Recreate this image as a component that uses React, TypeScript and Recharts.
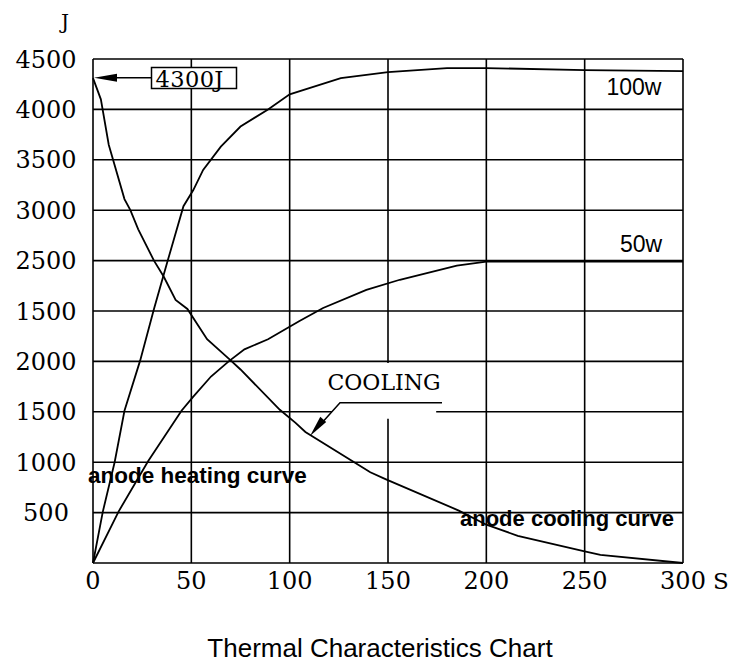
import React from "react";
import { LineChart, Line, XAxis, YAxis, CartesianGrid, ReferenceArea } from "recharts";

// x: seconds (S); y: chart grid units (one gridline = 500), labelled as printed on the original
const xTicks = [0, 50, 100, 150, 200, 250, 300];
const xTickLabels = ["0", "50", "100", "150", "200", "250", "300"];
const yTicks = [0, 500, 1000, 1500, 2000, 2500, 3000, 3500, 4000, 4500, 5000];
const yTickLabels = ["", "500", "1000", "1500", "2000", "1500", "2500", "3000", "3500", "4000", "4500"];

const heat100S = [0, 5, 11, 16, 24, 31, 38, 46, 51, 56, 65, 75, 89, 100, 126, 150, 180, 200, 250, 300];
const heat100J = [0, 510, 1000, 1510, 2010, 2520, 3000, 3540, 3700, 3900, 4130, 4330, 4500, 4650, 4810, 4870, 4910, 4910, 4890, 4880];

const heat50S = [0, 13, 28, 45, 51, 60, 69, 77, 89, 105, 117, 139, 156, 185, 200, 300];
const heat50J = [0, 510, 1010, 1510, 1650, 1850, 2000, 2120, 2220, 2400, 2530, 2710, 2810, 2950, 2990, 2990];

const coolS = [0, 4, 8, 16, 19, 23, 31, 36, 42, 48, 58, 70, 75, 95, 103, 108, 132, 141, 149, 186, 200, 216, 250, 258, 300];
const coolJ = [4810, 4600, 4150, 3610, 3500, 3310, 3000, 2840, 2610, 2520, 2220, 2010, 1920, 1520, 1390, 1300, 1010, 900, 830, 520, 380, 270, 115, 80, 0];

const toRows = (s: number[], j: number[]) => s.map((v, i) => ({ s: v, j: j[i] }));
const heat100 = toRows(heat100S, heat100J);
const heat50 = toRows(heat50S, heat50J);
const cooling = toRows(coolS, coolJ);

const SERIF = "'DejaVu Serif', serif";
const SANS = "'Liberation Sans', Arial, sans-serif";

const XTick = (props: any) => {
  const { x, y, payload } = props;
  const i = xTicks.indexOf(payload.value);
  return (
    <text x={x} y={y + 18} textAnchor="middle" fontFamily={SERIF} fontSize={24} fill="#000">
      {xTickLabels[i]}
    </text>
  );
};

const YTick = (props: any) => {
  const { y, payload } = props;
  const i = yTicks.indexOf(payload.value);
  return (
    <text x={46} y={y + 8.5} textAnchor="middle" fontFamily={SERIF} fontSize={24} fill="#000">
      {yTickLabels[i]}
    </text>
  );
};

export default function App() {
  return (
    <div style={{ position: "absolute", left: 0, top: 0, width: 737, height: 669, background: "#fff" }}>
      <LineChart
        width={737}
        height={669}
        margin={{ top: 59, right: 54, bottom: 66, left: 0 }}
        style={{ position: "absolute", left: 0, top: 0 }}
      >
        <CartesianGrid stroke="#000" strokeWidth={1.6} />
        <XAxis
          type="number"
          dataKey="s"
          domain={[0, 300]}
          ticks={xTicks}
          axisLine={false}
          tickLine={false}
          height={40}
          tick={<XTick />}
          interval={0}
        />
        <YAxis
          type="number"
          dataKey="j"
          domain={[0, 5000]}
          ticks={yTicks}
          axisLine={false}
          tickLine={false}
          width={93}
          tick={<YTick />}
          interval={0}
        />
        <ReferenceArea x1={121.5} x2={174.5} y1={1430} y2={1985} fill="#fff" fillOpacity={1} stroke="none" />
        <Line data={heat100} dataKey="j" type="linear" stroke="#000" strokeWidth={1.8} dot={false} isAnimationActive={false} />
        <Line data={heat50} dataKey="j" type="linear" stroke="#000" strokeWidth={1.8} dot={false} isAnimationActive={false} />
        <Line data={cooling} dataKey="j" type="linear" stroke="#000" strokeWidth={1.8} dot={false} isAnimationActive={false} />
      </LineChart>
      <svg width={737} height={669} style={{ position: "absolute", left: 0, top: 0, pointerEvents: "none" }}>
        <text x={65} y={29} textAnchor="middle" fontFamily={SERIF} fontSize={20} fill="#000">J</text>
        <text x={721} y={589} textAnchor="middle" fontFamily={SERIF} fontSize={23} fill="#000">S</text>

        {/* 4300J callout */}
        <rect x={151.5} y={67.5} width={85} height={21} fill="#fff" stroke="#000" strokeWidth={1.5} />
        <text x={155.5} y={86.5} fontFamily={SERIF} fontSize={22.5} letterSpacing={0.4} fill="#000">4300J</text>
        <line x1={151.5} y1={77.8} x2={112} y2={77.8} stroke="#000" strokeWidth={1.5} />
        <polygon points="94,77.8 117,73.8 117,81.8" fill="#000" />

        <text x={606.5} y={95} fontFamily={SANS} fontSize={23} fill="#000">100w</text>
        <text x={620} y={251.5} fontFamily={SANS} fontSize={23} fill="#000">50w</text>

        {/* COOLING leader */}
        <text x={327.5} y={390} fontFamily={SERIF} fontSize={22} fill="#000">COOLING</text>
        <polyline points="442,402.7 340,402.7 322,422.7" fill="none" stroke="#000" strokeWidth={1.5} />
        <polygon points="310,436 320.3,416.7 326.2,422" fill="#000" />

        <text x={88} y={483} fontFamily={SANS} fontWeight="bold" fontSize={22.5} fill="#000">anode heating curve</text>
        <text x={460} y={526} fontFamily={SANS} fontWeight="bold" fontSize={22} fill="#000">anode cooling curve</text>

        <text x={380} y={657} textAnchor="middle" fontFamily={SANS} fontSize={26} fill="#000">Thermal Characteristics Chart</text>
      </svg>
    </div>
  );
}
